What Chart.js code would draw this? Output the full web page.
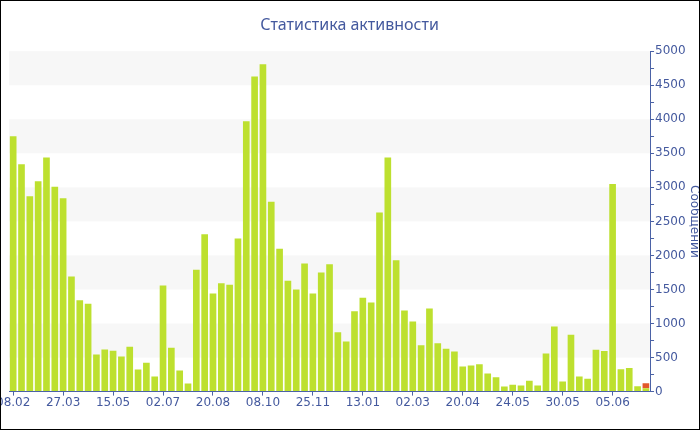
<!DOCTYPE html>
<html>
<head>
<meta charset="utf-8">
<script src="https://cdn.jsdelivr.net/npm/chart.js@4/dist/chart.umd.min.js"></script>
<style>
  body { margin: 0; background: #fff; }
  #frame { position: relative; width: 700px; height: 430px; box-sizing: border-box; border: 1px solid #000; overflow: hidden; }
  #holder { position: absolute; left: -5px; top: -1px; width: 708px; height: 430px; }
</style>
</head>
<body>
<div id="frame"><div id="holder"><canvas id="activityChart"></canvas></div></div>
<script>
// x tick labels, one every 6 bars
const tickLabels = ['08.02', '27.03', '15.05', '02.07', '20.08', '08.10', '25.11',
  '13.01', '02.03', '20.04', '24.05', '30.05', '05.06'];

// messages per period (green)
const messages = [
  3750, 3340, 2870, 3090, 3440, 3010, 2840, 1690, 1340, 1290,
  545, 620, 600, 515, 660, 325, 425, 220, 1560, 645,
  310, 120, 1790, 2310, 1440, 1590, 1570, 2250, 3970, 4630,
  4810, 2790, 2100, 1630, 1500, 1880, 1440, 1750, 1870, 870,
  735, 1180, 1380, 1310, 2630, 3440, 1930, 1190, 1030, 680,
  1220, 710, 630, 590, 370, 385, 400, 265, 210, 75,
  100, 90, 160, 90, 560, 955, 150, 835, 220, 190,
  615, 595, 3050, 330, 345, 80, 48
];

// current period (orange part on top of the last bar)
const current = new Array(messages.length).fill(0);
current[current.length - 1] = 75;

const categories = messages.map((_, i) => i);

const axisColor = '#4b62a6';
const textColor = '#44599e';

const bands = {
  id: 'bands',
  beforeDraw(chart) {
    const { ctx, chartArea, scales } = chart;
    const y = scales.y;
    ctx.save();
    ctx.fillStyle = '#f7f7f7';
    for (let v = 500; v < 5000; v += 1000) {
      const top = y.getPixelForValue(v + 500);
      const bottom = y.getPixelForValue(v);
      ctx.fillRect(chartArea.left, top, chartArea.right - chartArea.left, bottom - top);
    }
    ctx.restore();
  }
};

const ctx = document.getElementById('activityChart').getContext('2d');
if (ctx) {
  const activityChart = new Chart(ctx, {
    type: 'bar',
    data: {
      labels: categories,
      datasets: [{
        label: 'Сообщений',
        data: messages,
        backgroundColor: '#bde02f',
        barPercentage: 0.8,
        categoryPercentage: 1
      }, {
        label: 'Текущий период',
        data: current,
        backgroundColor: '#e2582b',
        barPercentage: 0.8,
        categoryPercentage: 1
      }]
    },
    plugins: [bands],
    options: {
      responsive: true,
      maintainAspectRatio: false,
      animation: false,
      layout: { padding: { top: 4, bottom: 20, left: 0, right: 1 } },
      scales: {
        x: {
          stacked: true,
          offset: true,
          afterBuildTicks: scale => {
            scale.ticks = scale.ticks.filter(t => t.value % 6 === 0);
          },
          grid: { drawOnChartArea: false, offset: false, tickLength: 4, tickColor: axisColor },
          border: { color: axisColor, width: 1 },
          ticks: {
            autoSkip: false,
            maxRotation: 0,
            padding: 0,
            color: textColor,
            font: { family: 'DejaVu Sans', size: 12 },
            callback: value => tickLabels[value / 6]
          }
        },
        y: {
          stacked: true,
          position: 'right',
          min: 0,
          max: 5000,
          grid: { drawOnChartArea: false, tickLength: 4, tickColor: axisColor },
          border: { color: axisColor, width: 1 },
          ticks: {
            stepSize: 250,
            autoSkip: false,
            padding: 1,
            color: textColor,
            font: { family: 'DejaVu Sans', size: 12 },
            callback: value => (value % 500 === 0 ? value : '')
          },
          title: {
            display: true,
            text: 'Сообщений',
            color: textColor,
            padding: { top: 2, bottom: 0 },
            font: { family: 'DejaVu Sans', size: 12 }
          }
        }
      },
      plugins: {
        legend: { display: false },
        tooltip: { enabled: false },
        title: {
          display: true,
          text: 'Статистика активности',
          color: textColor,
          padding: { top: 12, bottom: 16 },
          font: { family: 'Noto Sans', size: 16, weight: 'normal' }
        }
      }
    }
  });
}
</script>
</body>
</html>
